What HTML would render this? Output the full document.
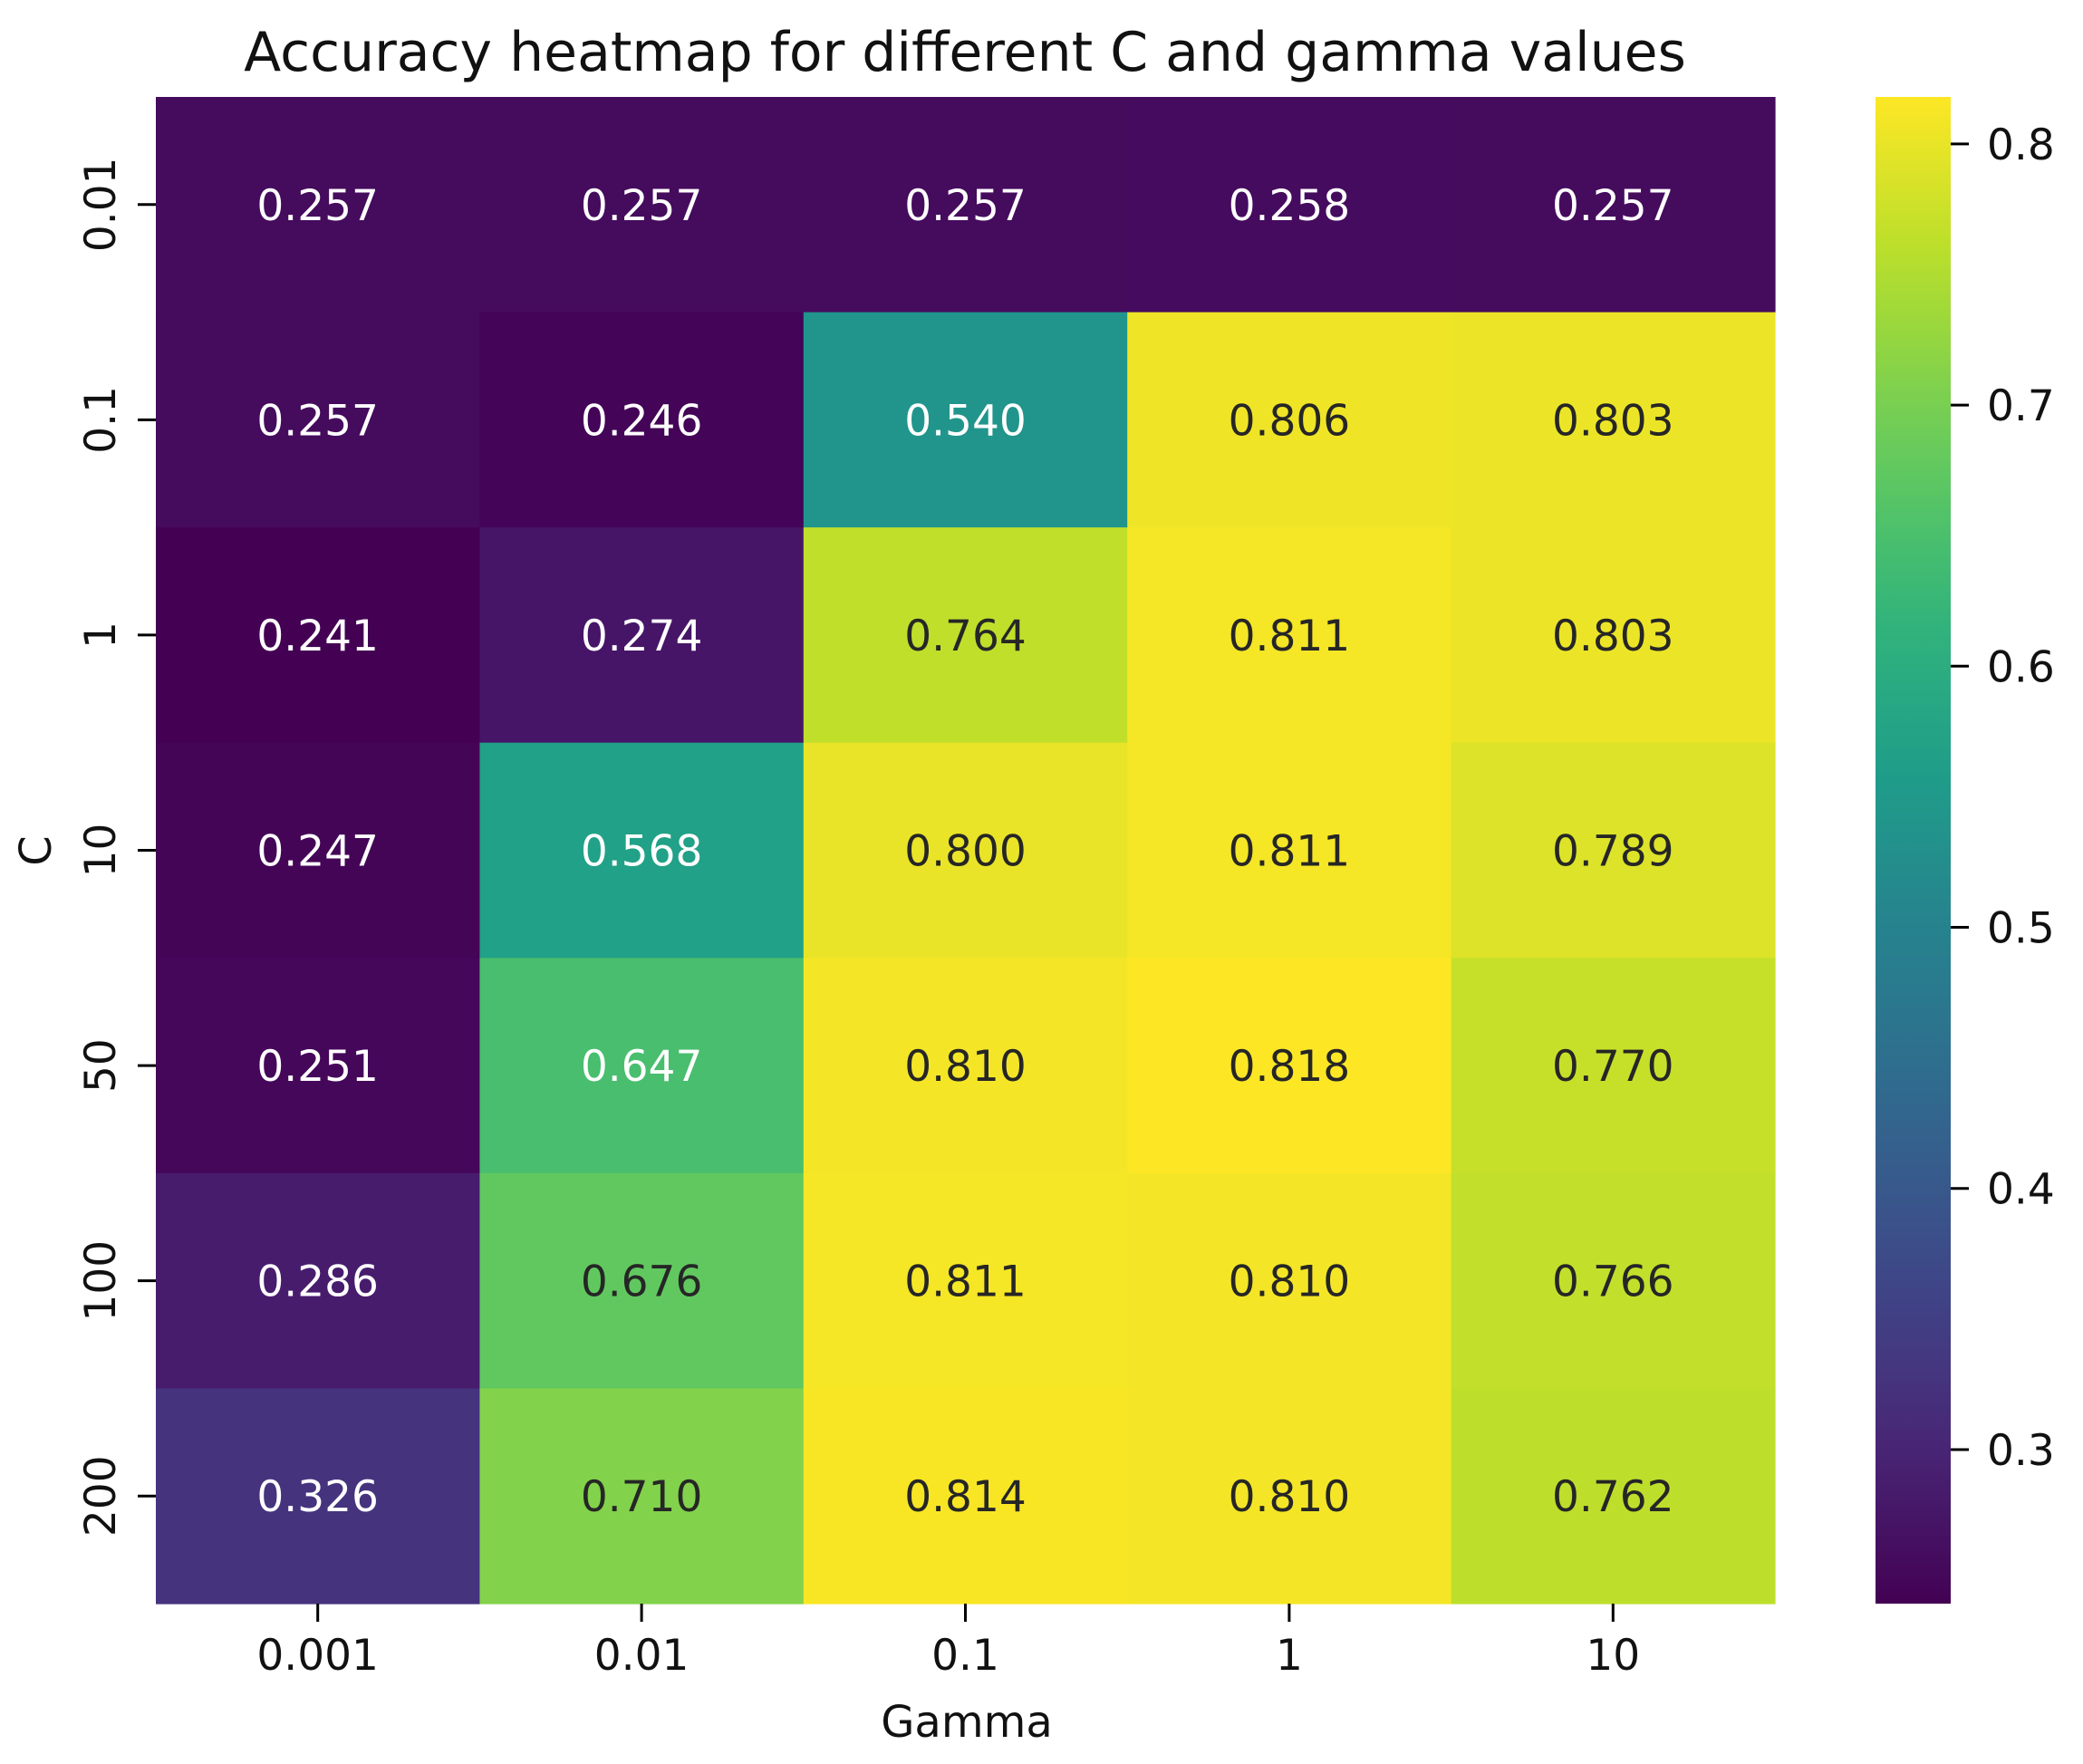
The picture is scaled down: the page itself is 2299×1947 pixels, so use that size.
<!DOCTYPE html>
<html><head><meta charset="utf-8"><style>
html,body{margin:0;padding:0;background:#fff;}
svg{display:block;font-family:"DejaVu Sans","Liberation Sans",sans-serif;}
</style></head><body>
<svg id="chart" width="2299" height="1947" viewBox="0 0 2299 1947" xmlns="http://www.w3.org/2000/svg">
<defs><linearGradient id="cbgrad" x1="0" y1="1" x2="0" y2="0"></linearGradient></defs>
<text x="1065" y="78" font-size="60" text-anchor="middle" fill="#111">Accuracy heatmap for different C and gamma values</text>
<g id="cells"></g>
<g id="axes"></g>
<text x="1067" y="1917" font-size="48" text-anchor="middle" fill="#111">Gamma</text>
<text transform="translate(56,939) rotate(-90)" font-size="48" text-anchor="middle" fill="#111">C</text>
</svg>
<script>
const gammaLabels = ["0.001","0.01","0.1","1","10"];
const cLabels = ["0.01","0.1","1","10","50","100","200"];
const accRow0 = [0.257,0.257,0.257,0.258,0.257];
const accRow1 = [0.257,0.246,0.540,0.806,0.803];
const accRow2 = [0.241,0.274,0.764,0.811,0.803];
const accRow3 = [0.247,0.568,0.800,0.811,0.789];
const accRow4 = [0.251,0.647,0.810,0.818,0.770];
const accRow5 = [0.286,0.676,0.811,0.810,0.766];
const accRow6 = [0.326,0.710,0.814,0.810,0.762];
const accuracy = [accRow0,accRow1,accRow2,accRow3,accRow4,accRow5,accRow6];
const cbTicks = [0.3,0.4,0.5,0.6,0.7,0.8];

const NS="http://www.w3.org/2000/svg";
const L=172,T=107,R=1959,B=1770;
const CBL=2070,CBR=2153;
const all=accuracy.flat();
const vmin=Math.min(...all), vmax=Math.max(...all);
const cw=(R-L)/gammaLabels.length, ch=(B-T)/cLabels.length;
const xCenter=i=>L+cw*(i+0.5);
const yCenter=j=>T+ch*(j+0.5);
const cbY=v=>B-(v-vmin)/(vmax-vmin)*(B-T);

const vir=[[68,1,84],[72,40,120],[62,73,137],[49,104,142],[38,130,142],[31,158,137],[53,183,121],[109,205,89],[180,222,44],[253,231,37]];
function viridis(t){t=Math.max(0,Math.min(1,t));const p=t*(vir.length-1);const i=Math.min(Math.floor(p),vir.length-2);const f=p-i;
 return vir[i].map((c,k)=>Math.round(c+(vir[i+1][k]-c)*f));}
function rgb(a){return `rgb(${a[0]},${a[1]},${a[2]})`;}
function lum(a){const l=a.map(c=>{c/=255;return c<=0.03928?c/12.92:Math.pow((c+0.055)/1.055,2.4);});return 0.2126*l[0]+0.7152*l[1]+0.0722*l[2];}
function mk(tag,attrs,parent){const e=document.createElementNS(NS,tag);for(const k in attrs)e.setAttribute(k,attrs[k]);parent.appendChild(e);return e;}

const cells=document.getElementById('cells');
accuracy.forEach((row,j)=>row.forEach((v,i)=>{
 const col=viridis((v-vmin)/(vmax-vmin));
 const r=mk('rect',{x:L+cw*i,y:T+ch*j,width:cw+0.6,height:ch+0.6,fill:rgb(col)},cells);
 
 
 const t=mk('text',{x:xCenter(i),y:yCenter(j)+17,'font-size':47,'text-anchor':'middle',fill:lum(col)>0.408?'#262626':'#ffffff'},cells);
 
 
 t.textContent=v.toFixed(3);
}));

const axes=document.getElementById('axes');
gammaLabels.forEach((g,i)=>{
 const tk=mk('line',{x1:xCenter(i),x2:xCenter(i),y1:B,y2:B+20,stroke:'#000','stroke-width':3},axes);
 
 
 const t=mk('text',{x:xCenter(i),y:1843,'font-size':47,'text-anchor':'middle',fill:'#111'},axes);
 
 
 t.textContent=g;
});
cLabels.forEach((c,j)=>{
 const tk=mk('line',{x1:L-20,x2:L,y1:yCenter(j),y2:yCenter(j),stroke:'#000','stroke-width':3},axes);
 
 
 const t=mk('text',{transform:`translate(127,${yCenter(j)}) rotate(-90)`,'font-size':47,'text-anchor':'middle',fill:'#111'},axes);
 
 
 t.textContent=c;
});

const grad=document.getElementById('cbgrad');
for(let k=0;k<=20;k++){mk('stop',{offset:(k/20),'stop-color':rgb(viridis(k/20))},grad);}
const cb=mk('rect',{x:CBL,y:T,width:CBR-CBL,height:B-T,fill:'url(#cbgrad)'},axes);


cbTicks.forEach(v=>{
 const y=cbY(v);
 const tk=mk('line',{x1:CBR,x2:CBR+20,y1:y,y2:y,stroke:'#000','stroke-width':3},axes);
 
 
 const t=mk('text',{x:2193,y:y+17,'font-size':47,fill:'#111'},axes);
 
 
 t.textContent=v.toFixed(1);
});
</script>
</body></html>
